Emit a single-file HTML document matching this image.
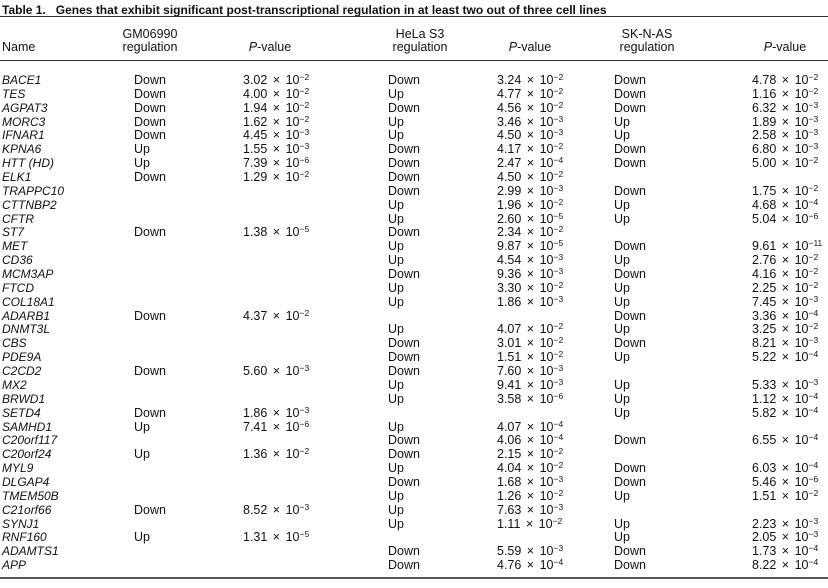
<!DOCTYPE html>
<html><head><meta charset="utf-8"><style>
body{margin:0;width:828px;height:588px;background:#fff;font-family:"Liberation Sans",sans-serif;color:#111;position:relative;overflow:hidden}
.t{position:absolute;left:2px;top:3px;font-size:12px;font-weight:bold;white-space:nowrap}
.hl{position:absolute;left:0;width:828px;background:#333}
.h{position:absolute;font-size:12.5px;text-align:center;line-height:13px;white-space:nowrap}
.r{position:absolute;left:0;width:828px;height:14px;font-size:12.5px;line-height:14px;white-space:nowrap}
.r span{position:absolute;word-spacing:2px}
.r span:nth-child(1){left:2px;font-style:italic;font-size:12px;word-spacing:0}
.r span:nth-child(2){left:134px}
.r span:nth-child(3){left:243px}
.r span:nth-child(4){left:388px}
.r span:nth-child(5){left:497px}
.r span:nth-child(6){left:614px}
.r span:nth-child(7){left:752px}
sup{font-size:8.5px;vertical-align:4px;line-height:0;word-spacing:0}
</style></head><body>
<div class="t">Table 1.&nbsp;&nbsp; Genes that exhibit significant post-transcriptional regulation in at least two out of three cell lines</div>
<div class="hl" style="top:16px;height:1px"></div>
<div class="h" style="left:2px;top:41px;text-align:left">Name</div>
<div class="h" style="left:100px;width:100px;top:28px">GM06990<br>regulation</div>
<div class="h" style="left:230px;width:80px;top:41px"><i>P</i>-value</div>
<div class="h" style="left:370px;width:100px;top:28px">HeLa S3<br>regulation</div>
<div class="h" style="left:490px;width:80px;top:41px"><i>P</i>-value</div>
<div class="h" style="left:597px;width:100px;top:28px">SK-N-AS<br>regulation</div>
<div class="h" style="left:745px;width:80px;top:41px"><i>P</i>-value</div>
<div class="hl" style="top:60px;height:1px"></div>

<div class="r" style="top:73px"><span>BACE1</span><span>Down</span><span>3.02 × 10<sup>−2</sup></span><span>Down</span><span>3.24 × 10<sup>−2</sup></span><span>Down</span><span>4.78 × 10<sup>−2</sup></span></div>
<div class="r" style="top:87px"><span>TES</span><span>Down</span><span>4.00 × 10<sup>−2</sup></span><span>Up</span><span>4.77 × 10<sup>−2</sup></span><span>Down</span><span>1.16 × 10<sup>−2</sup></span></div>
<div class="r" style="top:101px"><span>AGPAT3</span><span>Down</span><span>1.94 × 10<sup>−2</sup></span><span>Down</span><span>4.56 × 10<sup>−2</sup></span><span>Down</span><span>6.32 × 10<sup>−3</sup></span></div>
<div class="r" style="top:115px"><span>MORC3</span><span>Down</span><span>1.62 × 10<sup>−2</sup></span><span>Up</span><span>3.46 × 10<sup>−3</sup></span><span>Up</span><span>1.89 × 10<sup>−3</sup></span></div>
<div class="r" style="top:128px"><span>IFNAR1</span><span>Down</span><span>4.45 × 10<sup>−3</sup></span><span>Up</span><span>4.50 × 10<sup>−3</sup></span><span>Up</span><span>2.58 × 10<sup>−3</sup></span></div>
<div class="r" style="top:142px"><span>KPNA6</span><span>Up</span><span>1.55 × 10<sup>−3</sup></span><span>Down</span><span>4.17 × 10<sup>−2</sup></span><span>Down</span><span>6.80 × 10<sup>−3</sup></span></div>
<div class="r" style="top:156px"><span>HTT (HD)</span><span>Up</span><span>7.39 × 10<sup>−6</sup></span><span>Down</span><span>2.47 × 10<sup>−4</sup></span><span>Down</span><span>5.00 × 10<sup>−2</sup></span></div>
<div class="r" style="top:170px"><span>ELK1</span><span>Down</span><span>1.29 × 10<sup>−2</sup></span><span>Down</span><span>4.50 × 10<sup>−2</sup></span><span></span><span></span></div>
<div class="r" style="top:184px"><span>TRAPPC10</span><span></span><span></span><span>Down</span><span>2.99 × 10<sup>−3</sup></span><span>Down</span><span>1.75 × 10<sup>−2</sup></span></div>
<div class="r" style="top:198px"><span>CTTNBP2</span><span></span><span></span><span>Up</span><span>1.96 × 10<sup>−2</sup></span><span>Up</span><span>4.68 × 10<sup>−4</sup></span></div>
<div class="r" style="top:212px"><span>CFTR</span><span></span><span></span><span>Up</span><span>2.60 × 10<sup>−5</sup></span><span>Up</span><span>5.04 × 10<sup>−6</sup></span></div>
<div class="r" style="top:225px"><span>ST7</span><span>Down</span><span>1.38 × 10<sup>−5</sup></span><span>Down</span><span>2.34 × 10<sup>−2</sup></span><span></span><span></span></div>
<div class="r" style="top:239px"><span>MET</span><span></span><span></span><span>Up</span><span>9.87 × 10<sup>−5</sup></span><span>Down</span><span>9.61 × 10<sup>−11</sup></span></div>
<div class="r" style="top:253px"><span>CD36</span><span></span><span></span><span>Up</span><span>4.54 × 10<sup>−3</sup></span><span>Up</span><span>2.76 × 10<sup>−2</sup></span></div>
<div class="r" style="top:267px"><span>MCM3AP</span><span></span><span></span><span>Down</span><span>9.36 × 10<sup>−3</sup></span><span>Down</span><span>4.16 × 10<sup>−2</sup></span></div>
<div class="r" style="top:281px"><span>FTCD</span><span></span><span></span><span>Up</span><span>3.30 × 10<sup>−2</sup></span><span>Up</span><span>2.25 × 10<sup>−2</sup></span></div>
<div class="r" style="top:295px"><span>COL18A1</span><span></span><span></span><span>Up</span><span>1.86 × 10<sup>−3</sup></span><span>Up</span><span>7.45 × 10<sup>−3</sup></span></div>
<div class="r" style="top:309px"><span>ADARB1</span><span>Down</span><span>4.37 × 10<sup>−2</sup></span><span></span><span></span><span>Down</span><span>3.36 × 10<sup>−4</sup></span></div>
<div class="r" style="top:322px"><span>DNMT3L</span><span></span><span></span><span>Up</span><span>4.07 × 10<sup>−2</sup></span><span>Up</span><span>3.25 × 10<sup>−2</sup></span></div>
<div class="r" style="top:336px"><span>CBS</span><span></span><span></span><span>Down</span><span>3.01 × 10<sup>−2</sup></span><span>Down</span><span>8.21 × 10<sup>−3</sup></span></div>
<div class="r" style="top:350px"><span>PDE9A</span><span></span><span></span><span>Down</span><span>1.51 × 10<sup>−2</sup></span><span>Up</span><span>5.22 × 10<sup>−4</sup></span></div>
<div class="r" style="top:364px"><span>C2CD2</span><span>Down</span><span>5.60 × 10<sup>−3</sup></span><span>Down</span><span>7.60 × 10<sup>−3</sup></span><span></span><span></span></div>
<div class="r" style="top:378px"><span>MX2</span><span></span><span></span><span>Up</span><span>9.41 × 10<sup>−3</sup></span><span>Up</span><span>5.33 × 10<sup>−3</sup></span></div>
<div class="r" style="top:392px"><span>BRWD1</span><span></span><span></span><span>Up</span><span>3.58 × 10<sup>−6</sup></span><span>Up</span><span>1.12 × 10<sup>−4</sup></span></div>
<div class="r" style="top:406px"><span>SETD4</span><span>Down</span><span>1.86 × 10<sup>−3</sup></span><span></span><span></span><span>Up</span><span>5.82 × 10<sup>−4</sup></span></div>
<div class="r" style="top:420px"><span>SAMHD1</span><span>Up</span><span>7.41 × 10<sup>−6</sup></span><span>Up</span><span>4.07 × 10<sup>−4</sup></span><span></span><span></span></div>
<div class="r" style="top:433px"><span>C20orf117</span><span></span><span></span><span>Down</span><span>4.06 × 10<sup>−4</sup></span><span>Down</span><span>6.55 × 10<sup>−4</sup></span></div>
<div class="r" style="top:447px"><span>C20orf24</span><span>Up</span><span>1.36 × 10<sup>−2</sup></span><span>Down</span><span>2.15 × 10<sup>−2</sup></span><span></span><span></span></div>
<div class="r" style="top:461px"><span>MYL9</span><span></span><span></span><span>Up</span><span>4.04 × 10<sup>−2</sup></span><span>Down</span><span>6.03 × 10<sup>−4</sup></span></div>
<div class="r" style="top:475px"><span>DLGAP4</span><span></span><span></span><span>Down</span><span>1.68 × 10<sup>−3</sup></span><span>Down</span><span>5.46 × 10<sup>−6</sup></span></div>
<div class="r" style="top:489px"><span>TMEM50B</span><span></span><span></span><span>Up</span><span>1.26 × 10<sup>−2</sup></span><span>Up</span><span>1.51 × 10<sup>−2</sup></span></div>
<div class="r" style="top:503px"><span>C21orf66</span><span>Down</span><span>8.52 × 10<sup>−3</sup></span><span>Up</span><span>7.63 × 10<sup>−3</sup></span><span></span><span></span></div>
<div class="r" style="top:517px"><span>SYNJ1</span><span></span><span></span><span>Up</span><span>1.11 × 10<sup>−2</sup></span><span>Up</span><span>2.23 × 10<sup>−3</sup></span></div>
<div class="r" style="top:530px"><span>RNF160</span><span>Up</span><span>1.31 × 10<sup>−5</sup></span><span></span><span></span><span>Up</span><span>2.05 × 10<sup>−3</sup></span></div>
<div class="r" style="top:544px"><span>ADAMTS1</span><span></span><span></span><span>Down</span><span>5.59 × 10<sup>−3</sup></span><span>Down</span><span>1.73 × 10<sup>−4</sup></span></div>
<div class="r" style="top:558px"><span>APP</span><span></span><span></span><span>Down</span><span>4.76 × 10<sup>−4</sup></span><span>Down</span><span>8.22 × 10<sup>−4</sup></span></div>
<div class="hl" style="top:577px;height:2px;background:#555"></div>
</body></html>
